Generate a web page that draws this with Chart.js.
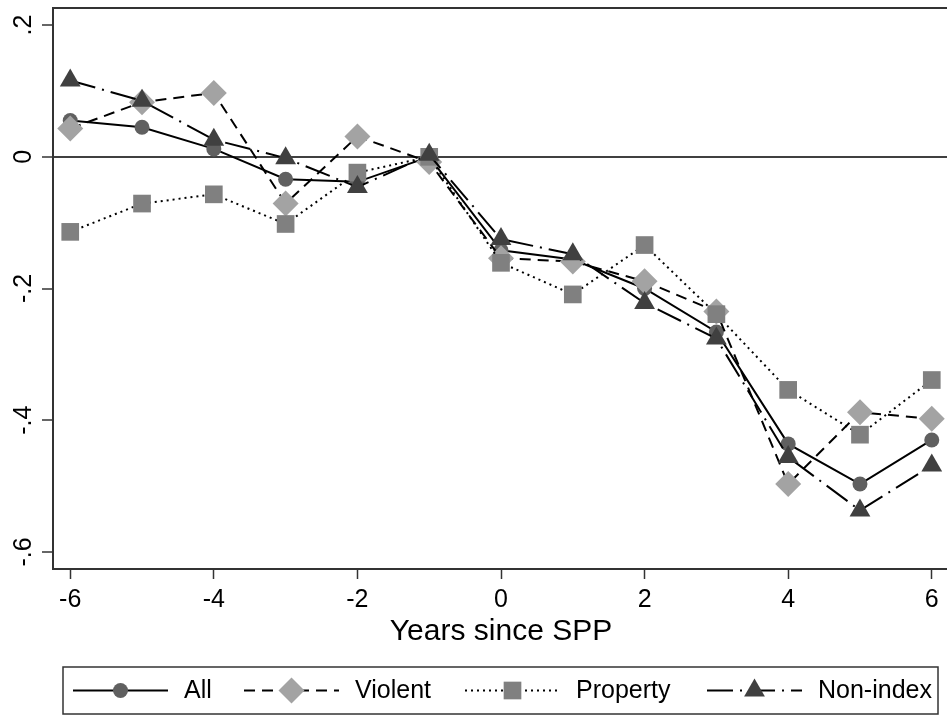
<!DOCTYPE html>
<html>
<head>
<meta charset="utf-8">
<title>Years since SPP</title>
<script src="https://cdn.jsdelivr.net/npm/chart.js@4.4.1/dist/chart.umd.min.js"></script>
<style>
  html, body { margin: 0; padding: 0; background: #fff; overflow: hidden; }
  #wrap { width: 949px; height: 719px; }
</style>
</head>
<body>
<div id="wrap"><canvas id="eventChart" width="949" height="719"></canvas></div>
<script>
// years relative to the SPP start
const years = [-6, -5, -4, -3, -2, -1, 0, 1, 2, 3, 4, 5, 6];

// estimated coefficients per crime type
const allCrime = [0.055, 0.045, 0.012, -0.034, -0.038, 0, -0.142, -0.156, -0.200, -0.266, -0.436, -0.497, -0.430];
const violent = [0.043, 0.083, 0.097, -0.071, 0.031, -0.008, -0.154, -0.159, -0.189, -0.235, -0.497, -0.388, -0.398];
const property = [-0.114, -0.071, -0.057, -0.102, -0.024, 0.000, -0.161, -0.209, -0.134, -0.239, -0.354, -0.422, -0.339];
const nonIndex = [0.116, 0.085, 0.026, -0.002, -0.046, 0.003, -0.125, -0.148, -0.222, -0.276, -0.456, -0.537, -0.469];

const xTicks = [-6, -4, -2, 0, 2, 4, 6];
const yTicks = [-0.6, -0.4, -0.2, 0, 0.2];
const yTickLabels = ["-.6", "-.4", "-.2", "0", ".2"];

const FONT = "'Liberation Sans', Arial, sans-serif";
Chart.defaults.font.family = FONT;
Chart.defaults.color = "#000";

function series(label, values, style) {
  return Object.assign({
    label: label,
    data: years.map((x, i) => ({ x: x, y: values[i] })),
    borderColor: "#000",
    borderWidth: 2,
    pointBorderWidth: 0,
    fill: false,
    tension: 0
  }, style);
}

const datasets = [
  series("All", allCrime, {
    pointStyle: "circle", pointRadius: 7.5,
    pointBackgroundColor: "#606060", pointBorderColor: "#606060",
    borderDash: [], order: 4
  }),
  series("Violent", violent, {
    pointStyle: "rectRot", pointRadius: 13,
    pointBackgroundColor: "#a3a3a3", pointBorderColor: "#a3a3a3",
    borderDash: [11, 7], order: 3
  }),
  series("Property", property, {
    pointStyle: "rect", pointRadius: 12.5,
    pointBackgroundColor: "#808080", pointBorderColor: "#808080",
    borderDash: [2, 4], order: 2
  }),
  series("Non-index", nonIndex, {
    pointStyle: "triangle", pointRadius: 12,
    pointBackgroundColor: "#404040", pointBorderColor: "#404040",
    borderDash: [26, 7, 2, 7], order: 1
  })
];

// no extra room for edge labels: plot box runs to the canvas edges
function noEdgePadding(scale) {
  scale.paddingLeft = 0;
  scale.paddingRight = 0;
  scale.paddingTop = 0;
  scale.paddingBottom = 0;
}

// top edge of the plot region
const topFrame = {
  id: "topFrame",
  afterDraw(chart) {
    const { ctx, chartArea } = chart;
    ctx.save();
    ctx.strokeStyle = "#333";
    ctx.lineWidth = 2;
    ctx.beginPath();
    ctx.moveTo(chartArea.left, chartArea.top);
    ctx.lineTo(chartArea.right, chartArea.top);
    ctx.stroke();
    ctx.restore();
  }
};

// boxed legend with line samples and markers
const boxLegend = {
  id: "boxLegend",
  afterDraw(chart) {
    const ctx = chart.ctx;
    const box = { left: 63, top: 667, right: 938, bottom: 714 };
    const midY = (box.top + box.bottom) / 2;
    const starts = [73, 244, 465, 707];
    const sampleLen = 95;

    ctx.save();
    ctx.strokeStyle = "#333";
    ctx.lineWidth = 1.5;
    ctx.strokeRect(box.left, box.top, box.right - box.left, box.bottom - box.top);

    chart.data.datasets.forEach((ds, i) => {
      const sx = starts[i];
      ctx.save();
      ctx.strokeStyle = ds.borderColor;
      ctx.lineWidth = ds.borderWidth;
      ctx.setLineDash(ds.borderDash);
      ctx.beginPath();
      ctx.moveTo(sx, midY);
      ctx.lineTo(sx + sampleLen, midY);
      ctx.stroke();
      ctx.restore();

      ctx.fillStyle = ds.pointBackgroundColor;
      ctx.strokeStyle = ds.pointBorderColor;
      Chart.helpers.drawPoint(ctx, {
        pointStyle: ds.pointStyle, radius: ds.pointRadius, borderWidth: 0, rotation: 0
      }, sx + sampleLen / 2, midY);

      ctx.fillStyle = "#000";
      ctx.font = "25px " + FONT;
      ctx.textAlign = "left";
      ctx.textBaseline = "middle";
      ctx.fillText(ds.label, sx + 111, midY + 1);
    });
    ctx.restore();
  }
};

new Chart(document.getElementById("eventChart").getContext("2d"), {
  type: "line",
  data: { datasets: datasets },
  plugins: [topFrame, boxLegend],
  options: {
    responsive: false,
    animation: false,
    events: [],
    layout: { autoPadding: false, padding: { top: 8, left: 0, right: 0, bottom: 0 } },
    plugins: {
      legend: { display: false },
      tooltip: { enabled: false }
    },
    scales: {
      x: {
        type: "linear",
        min: -6.24,
        max: 6.24,
        afterBuildTicks: (scale) => { scale.ticks = xTicks.map(v => ({ value: v })); },
        afterFit: (scale) => { scale.height = 150; noEdgePadding(scale); },
        grid: { drawOnChartArea: false, tickLength: 10, tickColor: "#333", tickWidth: 1.5 },
        border: { display: true, color: "#333", width: 2 },
        ticks: {
          font: { size: 25 },
          color: "#000",
          padding: 6,
          maxRotation: 0,
          callback: (v) => String(v)
        },
        title: {
          display: true,
          text: "Years since SPP",
          font: { size: 30 },
          color: "#000",
          padding: { top: 0, bottom: 69 }
        }
      },
      y: {
        min: -0.626,
        max: 0.226,
        afterBuildTicks: (scale) => { scale.ticks = yTicks.map(v => ({ value: v })); },
        afterFit: (scale) => { scale.width = 53; noEdgePadding(scale); },
        grid: {
          color: (c) => (c.tick && c.tick.value === 0 ? "#404040" : "rgba(0,0,0,0)"),
          lineWidth: 2,
          tickLength: 11,
          tickColor: "#333",
          tickWidth: 1.5
        },
        border: { display: true, color: "#333", width: 2 },
        ticks: {
          font: { size: 25 },
          color: "#000",
          minRotation: 90,
          maxRotation: 90,
          crossAlign: "center",
          padding: 3,
          callback: (v, i) => yTickLabels[i]
        }
      }
    }
  }
});
</script>
</body>
</html>
